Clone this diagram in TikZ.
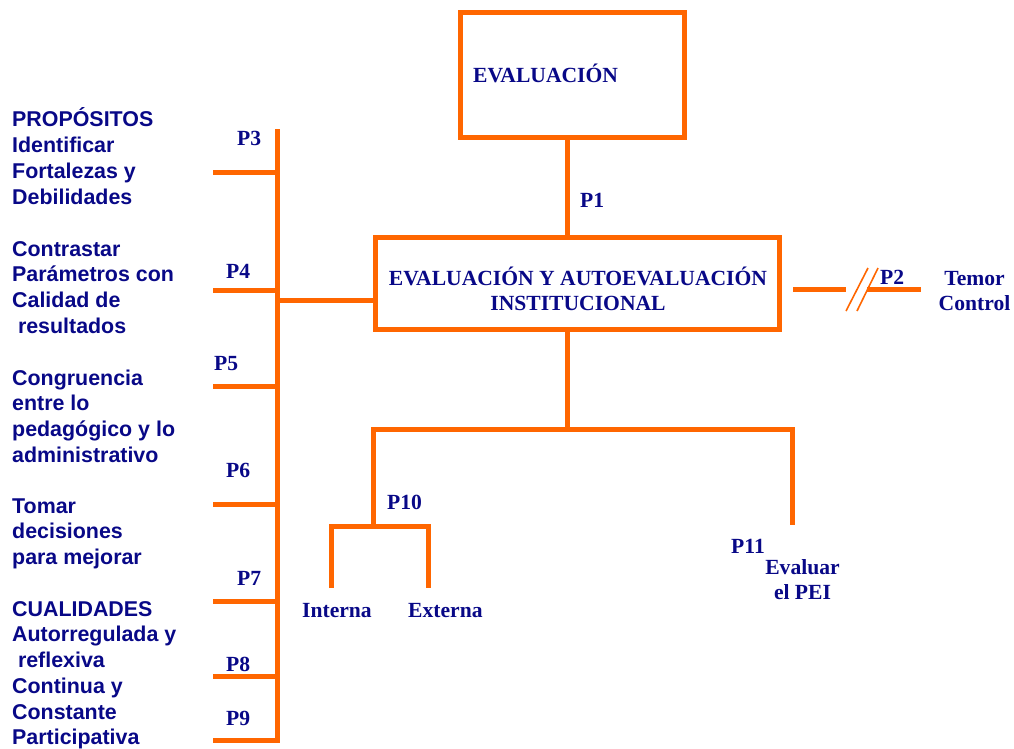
\documentclass[tikz,border=0pt]{standalone}
\usepackage{fontspec}
\setmainfont{Liberation Serif}
\newfontfamily\sansb{Liberation Sans}
\definecolor{org}{RGB}{255,102,0}
\definecolor{nav}{RGB}{8,8,135}
\begin{document}
\begin{tikzpicture}[x=1pt,y=-1pt,
  lin/.style={draw=org,line width=5pt},
  thinlin/.style={draw=org,line width=1.6pt},
  boxnode/.style={draw=org,line width=5pt,inner sep=0pt},
  ser/.style={font=\fontsize{21.6}{25.7}\selectfont\bfseries,text=nav,inner sep=0pt,anchor=base west},
  serc/.style={font=\fontsize{21.6}{25.7}\selectfont\bfseries,text=nav,inner sep=0pt,anchor=north,align=center},
  san/.style={font=\sansb\fontsize{21.4}{25.7}\selectfont\bfseries,text=nav,inner sep=0pt,align=left,anchor=north west}
]
\useasboundingbox (0,0) rectangle (1014,748);

% boxes
\node[boxnode,minimum width=224pt,minimum height=125pt] (eval) at (572.5,75) {};
\node[boxnode,minimum width=404pt,minimum height=92pt] (inst) at (577.5,283.5) {};
\node[ser] (tEval) at (473,82) {EVALUACIÓN};
\node[serc] (tInst) at (578,265) {\rule{0pt}{20pt}EVALUACIÓN Y AUTOEVALUACIÓN\\INSTITUCIONAL};

% P1
\coordinate (p1x) at (567,200);
\draw[lin] (eval.south -| p1x) -- (inst.north -| p1x);

% left bus
\coordinate (bt) at (277,129);
\coordinate (bb) at (277,740);
\coordinate (b3) at (213,172);
\coordinate (b4) at (213,290);
\coordinate (b5) at (213,386);
\coordinate (b6) at (213,504);
\coordinate (b7) at (213,601);
\coordinate (b8) at (213,676);
\coordinate (b9) at (213,740);
\draw[lin] (b9) -- (bb) -- (bt);
\foreach \b in {b3,b4,b5,b6,b7,b8} \draw[lin] (\b) -- (\b -| bt);
\coordinate (bj) at (277,300);
\draw[lin] (bj) -- (bj -| inst.west);

% bottom tree
\coordinate (tj) at (567,429);
\coordinate (tl) at (373,429);
\coordinate (tr) at (792,429);
\coordinate (p10j) at (373,526);
\coordinate (p11e) at (792,525);
\draw[lin] (inst.south -| tj) -- (tj);
\draw[lin] (p10j) -- (tl) -- (tr) -- (p11e);
\coordinate (il) at (331,526);
\coordinate (ir) at (428,526);
\coordinate (ile) at (331,588);
\coordinate (ire) at (428,588);
\draw[lin] (ile) -- (il) -- (ir) -- (ire);

% P2 broken line
\coordinate (r1) at (793,289);
\coordinate (r2) at (846,289);
\coordinate (r3) at (867,289);
\coordinate (r4) at (921,289);
\draw[lin] (r1) -- (r2);
\draw[lin] (r3) -- (r4);
\coordinate (s1a) at (846,311);
\coordinate (s1b) at (868,268);
\coordinate (s2a) at (857,311);
\coordinate (s2b) at (878,268);
\draw[thinlin] (s1a) -- (s1b);
\draw[thinlin] (s2a) -- (s2b);

% P labels
\node[ser] (lP1) at (580,207) {P1};
\node[ser] (lP2) at (880,284) {P2};
\node[ser] (lP3) at (237,145) {P3};
\node[ser] (lP4) at (226,278) {P4};
\node[ser] (lP5) at (214,370) {P5};
\node[ser] (lP6) at (226,477) {P6};
\node[ser] (lP7) at (237,585) {P7};
\node[ser] (lP8) at (226,671) {P8};
\node[ser] (lP9) at (226,725) {P9};
\node[ser] (lP10) at (387,509) {P10};
\node[ser] (lP11) at (731,553) {P11};

% other serif texts
\node[ser] (tInt) at (302,617) {Interna};
\node[ser] (tExt) at (408,617) {Externa};
\node[serc] (tPEI) at (802.5,554) {\rule{0pt}{20pt}Evaluar\\el PEI};
\node[serc] (tTemor) at (974.5,265) {\rule{0pt}{20pt}Temor\\Control};

% left texts
\node[san] (blk1) at (12,106.7) {\rule{0pt}{20pt}PROPÓSITOS\\Identificar\\Fortalezas y\\Debilidades};
\node[san] (blk2) at (12,236) {\rule{0pt}{20pt}Contrastar\\Parámetros con\\Calidad de\\\hspace*{5.8pt}resultados};
\node[san] (blk3) at (12,365) {\rule{0pt}{20pt}Congruencia\\entre lo\\pedagógico y lo\\administrativo};
\node[san] (blk4) at (12,493) {\rule{0pt}{20pt}Tomar\\decisiones\\para mejorar};
\node[san] (blk5) at (12,596) {\rule{0pt}{20pt}CUALIDADES\\Autorregulada y\\\hspace*{5.8pt}reflexiva\\Continua y\\Constante\\Participativa};
\end{tikzpicture}
\end{document}
